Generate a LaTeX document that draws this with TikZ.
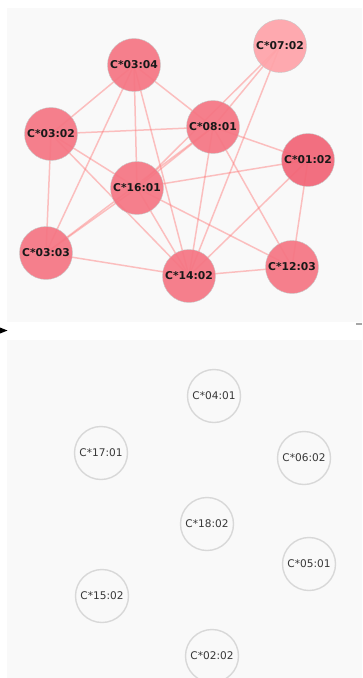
\documentclass[tikz,border=0pt]{standalone}
\usepackage{fontspec}
\setmainfont{DejaVu Sans}
\definecolor{panelbg}{RGB}{249,249,249}
\definecolor{nodefill}{RGB}{245,117,131}
\definecolor{darkfill}{RGB}{242,100,118}
\definecolor{lightfill}{RGB}{255,163,169}
\definecolor{edgecol}{RGB}{255,120,120}
\definecolor{ringcol}{RGB}{216,216,216}
\definecolor{labelgray}{RGB}{55,55,55}
\pgfdeclarelayer{bg}
\pgfdeclarelayer{edges}
\pgfsetlayers{bg,edges,main}
\tikzset{
  hub/.style={circle, minimum size=53bp, inner sep=0pt, fill=nodefill, fill opacity=0.92, text opacity=1,
    draw=black!22, line width=0.4bp, font=\bfseries\fontsize{10.8}{12}\selectfont, text=black!90},
  hubdark/.style={hub, fill=darkfill},
  hublight/.style={hub, fill=lightfill},
  lone/.style={circle, minimum size=53bp, inner sep=0pt, draw=ringcol, line width=1.4bp, fill=panelbg,
    font=\fontsize{10.6}{12}\selectfont, text=labelgray},
  link/.style={draw=edgecol, draw opacity=0.45, line width=1.5bp},
}
\begin{document}
\begin{tikzpicture}[x=1bp,y=-1bp]
\useasboundingbox (0,0) rectangle (362,678);
\begin{pgfonlayer}{bg}
\fill[white] (0,0) rectangle (362,678);
\fill[panelbg] (7,8) rectangle (362,322);
\fill[panelbg] (7,340) rectangle (362,678);
\end{pgfonlayer}
\coordinate (arrL) at (0,327.5);
\coordinate (arrT) at (7.5,330.5);
\coordinate (arrB) at (0,333.5);
\fill[black] (arrL) -- (arrT) -- (arrB) -- cycle;
\coordinate (dashA) at (356,324);
\coordinate (dashB) at (362,324);
\draw[black!35, line width=1.5bp] (dashA) -- (dashB);

% connected nodes
\node[hub] (n0304) at (134,65) {C*03:04};
\node[hublight] (n0702) at (280,46) {C*07:02};
\node[hub] (n0302) at (51,134) {C*03:02};
\node[hub] (n0801) at (213,127) {C*08:01};
\node[hubdark] (n0102) at (308,160) {C*01:02};
\node[hub] (n1601) at (137,188) {C*16:01};
\node[hub] (n0303) at (46,253) {C*03:03};
\node[hub] (n1402) at (189,276) {C*14:02};
\node[hub] (n1203) at (292,267) {C*12:03};

\begin{pgfonlayer}{edges}
\foreach \a/\b in {n0304/n0302, n0304/n0801, n0304/n1601, n0304/n0303, n0304/n1402,
  n0302/n0801, n0302/n0303, n0302/n1601, n0302/n1402,
  n0801/n0702, n0801/n0102, n0801/n1601, n0801/n0303, n0801/n1402, n0801/n1203,
  n0102/n1601, n0102/n1402, n0102/n1203,
  n1601/n0702, n1601/n0303, n1601/n1402, n1601/n1203,
  n0303/n1402, n1402/n0702, n1402/n1203}
  \draw[link] (\a.center) -- (\b.center);
\end{pgfonlayer}

% isolated nodes
\node[lone] (n0401) at (214,396) {C*04:01};
\node[lone] (n1701) at (101,453) {C*17:01};
\node[lone] (n0602) at (304,458) {C*06:02};
\node[lone] (n1802) at (207,524) {C*18:02};
\node[lone] (n0501) at (309,564) {C*05:01};
\node[lone] (n1502) at (102,596) {C*15:02};
\node[lone] (n0202) at (212,656) {C*02:02};
\end{tikzpicture}
\end{document}
